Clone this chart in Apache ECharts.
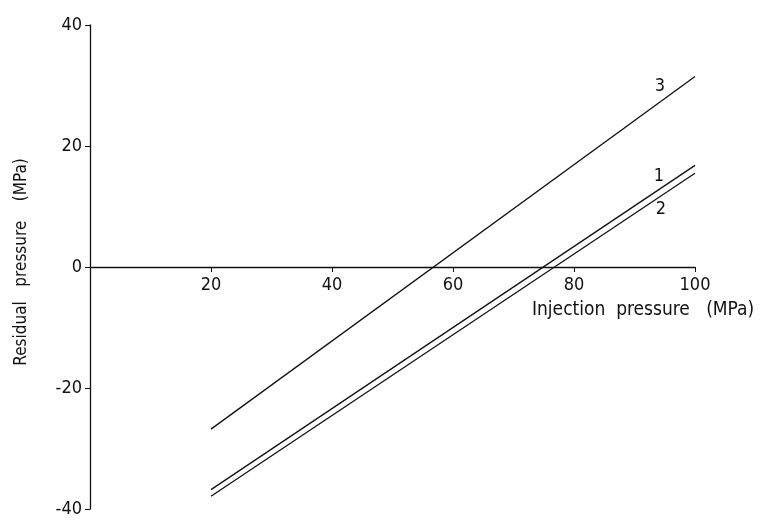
<!DOCTYPE html>
<html>
<head>
<meta charset="utf-8">
<script src="https://cdn.jsdelivr.net/npm/echarts@6/dist/echarts.min.js"></script>
<style>
  html, body { margin: 0; padding: 0; background: #fff; }
  #chart { width: 763px; height: 520px; }
</style>
</head>
<body>
<div id="chart"></div>
<script>
  // injection pressure (MPa) at line ends
  var injection = [20, 100]
  // residual pressure (MPa) for each curve
  var line1 = [-36.8, 16.8]
  var line2 = [-37.9, 15.5]
  var line3 = [-26.8, 31.5]
  var xTicks = [20, 40, 60, 80, 100]
  var yTicks = [-40, -20, 0, 20, 40]

  var font = 'DejaVu Sans Condensed, DejaVu Sans'
  var gridTop = 25
  var gridBottom = 11
  var H = 520

  function pairs(ys) {
    return injection.map(function (x, i) { return [x, ys[i]] })
  }

  // curve label sits at the last point, shifted left
  function seriesItem(name, ys, off) {
    var data = pairs(ys)
    data[data.length - 1] = {
      value: data[data.length - 1],
      label: {
        show: true,
        formatter: name,
        position: off,
        align: 'center',
        verticalAlign: 'middle',
        color: '#111',
        fontFamily: font,
        fontSize: 18
      }
    }
    return {
      type: 'line',
      name: name,
      symbol: 'circle',
      symbolSize: 0,
      showSymbol: true,
      silent: true,
      lineStyle: { color: '#111', width: 1.3 },
      itemStyle: { color: '#111' },
      data: data
    }
  }

  // x axis sits on y = 0, so shift it up from the grid bottom
  var plotH = H - gridTop - gridBottom
  var zeroShift = -plotH / 2

  var chart = echarts.init(document.getElementById('chart'))
  chart.setOption({
    animation: false,
    grid: { left: 90, right: 68, top: gridTop, bottom: gridBottom, containLabel: false, outerBoundsMode: 'none' },
    xAxis: {
      type: 'value',
      min: 0,
      max: 100,
      interval: 20,
      offset: zeroShift,
      axisLine: { onZero: false, lineStyle: { color: '#111', width: 1.3 } },
      axisTick: { show: true, inside: false, length: 5, lineStyle: { color: '#111' } },
      axisLabel: {
        color: '#111',
        fontFamily: font,
        fontSize: 18,
        margin: 9,
        formatter: function (v) { return xTicks.indexOf(v) >= 0 ? String(v) : '' }
      },
      splitLine: { show: false }
    },
    yAxis: {
      type: 'value',
      min: -40,
      max: 40,
      interval: 20,
      axisLine: { onZero: false, lineStyle: { color: '#111', width: 1.3 } },
      axisTick: { show: true, length: 5, lineStyle: { color: '#111' } },
      axisLabel: {
        color: '#111',
        fontFamily: font,
        fontSize: 18,
        margin: 8,
        formatter: function (v) { return yTicks.indexOf(v) >= 0 ? String(v) : '' }
      },
      splitLine: { show: false }
    },
    graphic: [
      {
        type: 'text',
        left: 532,
        top: 301,
        style: { text: 'Injection  pressure   (MPa)', fill: '#111', font: '19px "DejaVu Sans Condensed", "DejaVu Sans"' }
      },
      {
        type: 'text',
        x: 22,
        y: 262,
        rotation: Math.PI / 2,
        style: {
          text: 'Residual   pressure    (MPa)',
          fill: '#111',
          font: '17px "DejaVu Sans Condensed", "DejaVu Sans"',
          align: 'center',
          verticalAlign: 'middle'
        }
      }
    ],
    series: [
      seriesItem('1', line1, [-36, 11]),
      seriesItem('2', line2, [-34, 36]),
      seriesItem('3', line3, [-35, 10])
    ]
  })
</script>
</body>
</html>
